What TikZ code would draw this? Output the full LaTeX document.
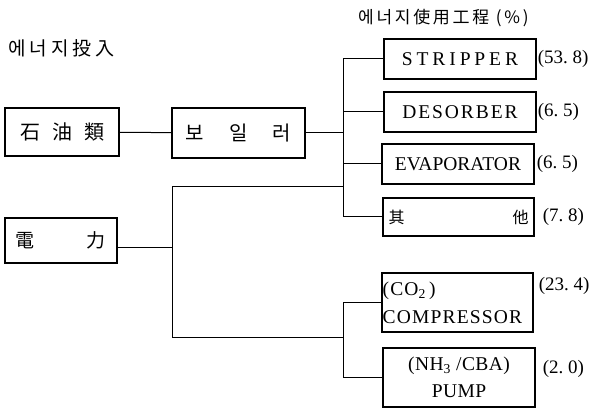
\documentclass[tikz,border=0pt]{standalone}
\usepackage{fontspec}
\setmainfont{Liberation Serif}
\newfontfamily\kr{Noto Sans CJK KR}
\begin{document}
\begin{tikzpicture}[x=1pt,y=-1pt,
  box/.style={draw,line width=1.1pt,inner sep=0pt,minimum width=152pt,minimum height=40pt},
  lsp/.style={font=\fontsize{19.5}{22}\selectfont\addfontfeature{LetterSpace=#1}},
  krf/.style={font=\kr\fontsize{#1}{#1}\selectfont},
  pct/.style={inner sep=0pt,anchor=west,font=\fontsize{19}{22}\selectfont},
  conn/.style={line width=1pt}]
\useasboundingbox (0,0) rectangle (590,411);
% titles
\node[inner sep=0pt,anchor=west,font=\kr\fontsize{19}{19}\selectfont\addfontfeature{LetterSpace=21}] (tin) at (8,48) {에너지投入};
\node[inner sep=0pt,anchor=west,font=\kr\fontsize{17}{17}\selectfont\addfontfeature{LetterSpace=16}] (tuse) at (358,18) {에너지使用工程 (\%)};
% input boxes
\node[box,minimum width=114pt,minimum height=48pt,krf=20] (oil) at (62,132) {石\hspace{12pt}油\hspace{12pt}類};
\node[box,minimum width=133pt,minimum height=50pt,krf=20] (boil) at (238.5,133) {보\hspace{25pt}일\hspace{25pt}러};
\node[box,minimum width=112pt,minimum height=45pt,krf=19] (pow) at (61,240.5) {電\hspace{52pt}力};
% use boxes
\node[box,lsp=20] (strip) at (460,59) {STRIPPER};
\node[box,lsp=10] (deso) at (460,112) {DESORBER};
\node[box,lsp=0] (evap) at (458,164) {EVAPORATOR};
\node[box,minimum width=151pt,minimum height=38pt,krf=16] (oth) at (458.5,217) {其\hspace{108pt}他};
\node[box,minimum width=151pt,minimum height=59pt] (comp) at (457.5,302.5) {};
\node[anchor=west,inner sep=0pt,align=left,lsp=6] (compt) at ([xshift=1pt]comp.west) {(CO\textsubscript{2}\,)\\[6pt]COMPRESSOR};
\node[box,minimum width=152pt,minimum height=59pt,align=center,lsp=2] (pump) at (459,377.5) {(NH\textsubscript{3} /CBA)\\[5pt]PUMP};
% percentages
\node[pct] (p1) at ([xshift=1pt]strip.east) {(53.\ 8)};
\node[pct] (p2) at ([xshift=1pt]deso.east) {(6.\ 5)};
\node[pct] (p3) at ([xshift=2pt]evap.east) {(6.\ 5)};
\node[pct] (p4) at ([xshift=8pt]oth.east) {(7.\ 8)};
\node[pct] (p5) at ([xshift=5pt,yshift=17pt]comp.east) {(23.\ 4)};
\node[pct] (p6) at ([xshift=7pt,yshift=9pt]pump.east) {(2.\ 0)};
% junctions
\coordinate (ju) at (343,61);
\coordinate (pa) at (172,187);
\coordinate (pb) at (172,338);
% connectors
\draw[conn] (oil) -- (boil);
\draw[conn] (boil.east) -- (boil.east -| ju);
\draw[conn] (strip.west) -- (strip.west -| ju) |- (oth.west);
\draw[conn] (deso.west) -- (deso.west -| ju);
\draw[conn] (evap.west) -- (evap.west -| ju);
\draw[conn] ([yshift=-7pt]pow.east) -- ([yshift=-7pt]pow.east -| pa);
\draw[conn] (pa -| ju) -- (pa) -- (pb) -- (pb -| ju);
\draw[conn] (comp.west) -- (comp.west -| ju) -- (pump.west -| ju) -- (pump.west);
\end{tikzpicture}
\end{document}
